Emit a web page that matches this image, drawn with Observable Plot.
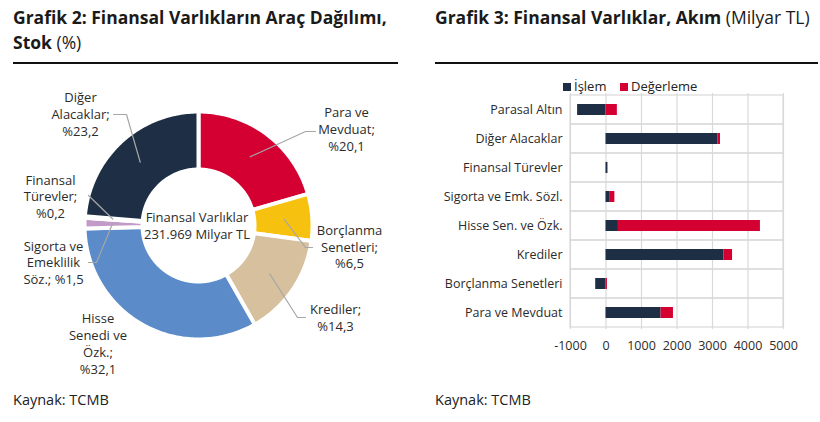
<!DOCTYPE html>
<html><head><meta charset="utf-8">
<script src="https://cdn.jsdelivr.net/npm/d3@7"></script>
<script src="https://cdn.jsdelivr.net/npm/@observablehq/plot@0.6"></script>
<style>
body{margin:0;background:#fff;font-family:"Open Sans",sans-serif;color:#1a1a1a;}
#page{position:relative;width:820px;height:422px;overflow:hidden;}
.title{position:absolute;top:5px;font-size:17.5px;font-weight:700;line-height:25px;white-space:nowrap;}
.title span{font-weight:400;}
.rule{position:absolute;top:62px;height:2px;background:#111;}
.cap{position:absolute;top:390px;font-size:14.5px;color:#222;}
.abs{position:absolute;}
#legend{position:absolute;left:563px;top:77px;font-size:13px;color:#222;white-space:nowrap;}
#legend i{display:inline-block;width:8px;height:8px;margin-right:3px;vertical-align:0px;}
</style></head>
<body><div id="page">
<div class="title" style="left:13px">Grafik 2: Finansal Varlıkların Araç Dağılımı,<br>Stok <span>(%)</span></div>
<div class="rule" style="left:13px;width:385px"></div>
<div class="title" style="left:435px">Grafik 3: Finansal Varlıklar, Akım <span>(Milyar TL)</span></div>
<div class="rule" style="left:435px;width:383px"></div>
<div id="donut" class="abs" style="left:0;top:70px"></div>
<div id="legend"><i style="background:#1e2f45"></i>İşlem&nbsp;&nbsp;&nbsp;&nbsp;<i style="background:#d50032"></i>Değerleme</div>
<div id="bars" class="abs" style="left:420px;top:80px"></div>
<div class="cap" style="left:13px">Kaynak: TCMB</div>
<div class="cap" style="left:435px">Kaynak: TCMB</div>
</div>
<script>
// ---- Donut data ----
const donutNames = ["Para ve Mevduat","Borçlanma Senetleri","Krediler","Hisse Senedi ve Özk.","Sigorta ve Emeklilik Söz.","Finansal Türevler","Diğer Alacaklar"];
const donutShares = [20.1, 6.5, 14.3, 32.1, 1.5, 0.2, 23.2];
const donutLabels = [
  ["Para ve","Mevduat;","%20,1"],
  ["Borçlanma","Senetleri;","%6,5"],
  ["Krediler;","%14,3"],
  ["Hisse","Senedi ve","Özk.;","%32,1"],
  ["Sigorta ve","Emeklilik","Söz.; %1,5"],
  ["Finansal","Türevler;","%0,2"],
  ["Diğer","Alacaklar;","%23,2"]
];
const centerLines = ["Finansal Varlıklar","231.969 Milyar TL"];

// ---- Bar data ----
const flowCategories = ["Parasal Altın","Diğer Alacaklar","Finansal Türevler","Sigorta ve Emk. Sözl.","Hisse Sen. ve Özk.","Krediler","Borçlanma Senetleri","Para ve Mevduat"];
const islem =     [-800, 3150, 55, 120, 350, 3320, -290, 1550];
const degerleme = [ 320,   75,  0, 130, 4000, 245,   40,  350];
const seriesNames = ["İşlem","Değerleme"];
const xTicks = [-1000, 0, 1000, 2000, 3000, 4000, 5000];

// ---- styles / layout ----
const donutColors = ["#d50032","#f6c20f","#d6c09e","#5b8bc9","#c39bc9","#8e8e8e","#1e2f45"];
const barColors = ["#1e2f45","#d50032"];
const R_OUT = 114, R_IN = 56, R_LEAD = 86;
const labelLayout = [
  {tx:148, ty:-112.3, lh:17, leader:[[107,-94],[117,-94]]},
  {tx:151, ty:5.7, lh:16.4, leader:[[107,22],[114,22]]},
  {tx:137, ty:84, lh:17, leader:[[99,92],[107,92]]},
  {tx:-100.5, ty:93.3, lh:16.9, leader:null},
  {tx:-145, ty:21, lh:16.7, leader:[[-102,37],[-110,37]]},
  {tx:-148, ty:-45, lh:16.7, leader:[[-110,-30]]},
  {tx:-118, ty:-127.3, lh:16.7, leader:[[-72,-111],[-85,-111]]}
];

// build donut polygons
const pie = d3.pie().sort(null).value(d => d.share)(donutNames.map((name,i)=>({name, share:donutShares[i]})));
const polys = [];
const leaders = [];
const texts = [];
pie.forEach((p,i) => {
  const name = p.data.name;
  const a0 = p.startAngle, a1 = p.endAngle;
  const n = Math.max(2, Math.ceil((a1 - a0) / (Math.PI/180)));
  for (let k = 0; k <= n; k++) { const a = a0 + (a1-a0)*k/n; polys.push({name, x: R_OUT*Math.sin(a), y: -R_OUT*Math.cos(a)}); }
  for (let k = n; k >= 0; k--) { const a = a0 + (a1-a0)*k/n; polys.push({name, x: R_IN*Math.sin(a), y: -R_IN*Math.cos(a)}); }
  const L = labelLayout[i];
  if (L.leader) {
    const am = (a0+a1)/2;
    leaders.push({name, x: R_LEAD*Math.sin(am), y: -R_LEAD*Math.cos(am)});
    L.leader.forEach(pt => leaders.push({name, x: pt[0], y: pt[1]}));
  }
  donutLabels[i].forEach((t,j) => texts.push({t, x: L.tx, y: L.ty + j*L.lh}));
});
centerLines.forEach((t,j) => texts.push({t, x:-1.5, y:-8 + j*17}));

const donut = Plot.plot({
  width: 410, height: 310, margin: 0,
  x: {domain: [-198, 212], axis: null},
  y: {domain: [-155, 155], reverse: true, axis: null},
  color: {domain: donutNames, range: donutColors},
  style: {fontFamily: "Open Sans", background: "transparent"},
  marks: [
    Plot.line(polys, {x:"x", y:"y", z:"name", fill:"name", stroke:"white", strokeWidth:4, curve:"linear-closed"}),
    Plot.line(leaders, {x:"x", y:"y", z:"name", stroke:"#a6a6a6", strokeWidth:1.2}),
    Plot.text(texts, {x:"x", y:"y", text:"t", fontSize:13, fill:"#2b2b2b"})
  ]
});
document.getElementById("donut").appendChild(donut);

// bars
const flowData = [];
seriesNames.forEach((s,si) => flowCategories.forEach((c,i) => flowData.push({cat:c, series:s, value: si===0 ? islem[i] : degerleme[i]})));

const bars = Plot.plot({
  width: 400, height: 290,
  marginLeft: 150, marginRight: 37, marginTop: 13, marginBottom: 41,
  x: {domain: [-1000, 5000], ticks: xTicks, tickFormat: d => String(d), tickSize: 0, tickPadding: 12, label: null},
  y: {domain: flowCategories, padding: 0, tickSize: 0, tickPadding: 8, label: null},
  color: {domain: seriesNames, range: barColors},
  style: {fontFamily: "Open Sans", fontSize: "12.5px", color: "#2b2b2b", background: "transparent"},
  marks: [
    Plot.ruleX(xTicks, {stroke: "#d9d9d9", strokeWidth: 1.2}),
    Plot.barX(flowCategories, {x1: -1000, x2: 5000, y: d => d, fill: "none", stroke: "#d9d9d9", strokeWidth: 1.2}),
    Plot.barX(flowData, {x: "value", y: "cat", fill: "series", insetTop: 9, insetBottom: 9})
  ]
});
document.getElementById("bars").appendChild(bars);
</script>
</body></html>
